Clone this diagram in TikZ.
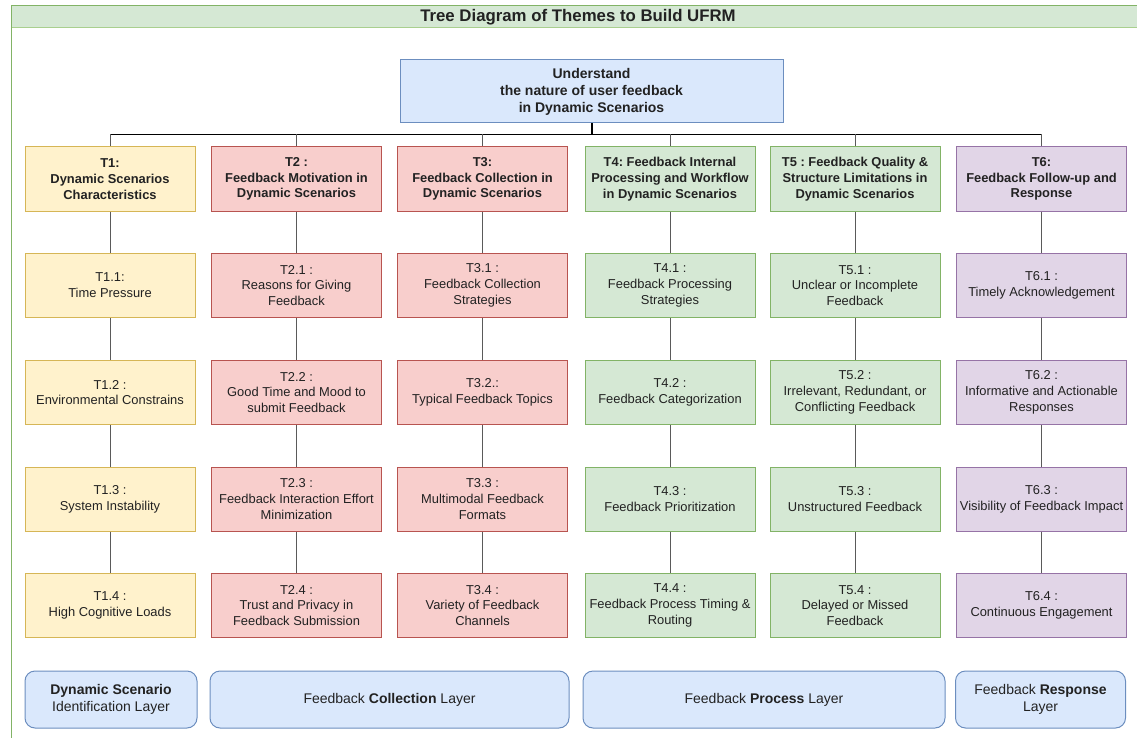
\documentclass[tikz,border=0pt]{standalone}
\usepackage{fontspec}
\setmainfont{Liberation Sans}
\frenchspacing
\definecolor{frameD}{HTML}{82B366}
\definecolor{frameL}{HTML}{A9CF8E}
\definecolor{yelF}{HTML}{FFF2CC}
\definecolor{yelD}{HTML}{D6B656}
\definecolor{redF}{HTML}{F8CECC}
\definecolor{redD}{HTML}{B85450}
\definecolor{grnF}{HTML}{D5E8D4}
\definecolor{grnD}{HTML}{82B366}
\definecolor{purF}{HTML}{E1D5E7}
\definecolor{purD}{HTML}{9673A6}
\definecolor{bluF}{HTML}{DAE8FC}
\definecolor{bluD}{HTML}{6C8EBF}
\definecolor{txt}{HTML}{222222}
\definecolor{wire}{HTML}{5A5A5A}
\begin{document}
\begin{tikzpicture}[x=1pt,y=-1pt,
  theme/.style={draw, line width=1pt, minimum width=170pt, minimum height=64pt,
    align=center, inner sep=1pt, text=txt, font=\fontsize{12.9}{15.8}\selectfont},
  head/.style={theme, font=\bfseries\fontsize{12.9}{15.8}\selectfont},
  yel/.style={fill=yelF, draw=yelD},
  red/.style={fill=redF, draw=redD},
  grn/.style={fill=grnF, draw=grnD},
  pur/.style={fill=purF, draw=purD},
  layer/.style={draw=bluD, fill=bluF, line width=1pt, rounded corners=10pt,
    minimum height=57pt, align=center, text=txt, font=\fontsize{14}{17.5}\selectfont},
  wirec/.style={draw=wire, line width=1pt},
]
\useasboundingbox (0,0) rectangle (1137,738);

% outer container with its title bar
\fill[grnF] (11,6) rectangle (1150,28);
\draw[frameL, line width=1pt] (11,28) -- (1150,28);
\draw[frameD, line width=1pt] (1150,6) -- (11,6) -- (11,745);
\node[font=\bfseries\fontsize{16.8}{19}\selectfont, text=txt] (title) at (578,17.5)
  {Tree Diagram of Themes to Build UFRM};

% root
\node[draw=bluD, fill=bluF, line width=1pt, minimum width=383pt, minimum height=63pt,
  align=center, text=txt, font=\bfseries\fontsize{14}{17}\selectfont]
  (root) at (591.5,91.5) {Understand\\the nature of user feedback\\in Dynamic Scenarios};

% main themes
\def\ya{179}
\node[head,yel] (t1) at (110,\ya)   {T1:\\Dynamic Scenarios\\Characteristics};
\node[head,red] (t2) at (296.5,\ya) {T2 :\\Feedback Motivation in\\Dynamic Scenarios};
\node[head,red] (t3) at (482.5,\ya) {T3:\\Feedback Collection in\\Dynamic Scenarios};
\node[head,grn] (t4) at (670,\ya)   {T4: Feedback Internal\\Processing and Workflow\\in Dynamic Scenarios};
\node[head,grn] (t5) at (855,\ya)   {T5 : Feedback Quality \&\\Structure Limitations in\\Dynamic Scenarios};
\node[head,pur] (t6) at (1041.5,\ya){T6:\\Feedback Follow-up and\\Response};

% sub-themes, row by row
\def\yb{285.5}\def\yc{392.5}\def\yd{499}\def\ye{605.5}
\node[theme,yel] (t11) at (110,\yb) {T1.1:\\Time Pressure};
\node[theme,yel] (t12) at (110,\yc) {T1.2 :\\Environmental Constrains};
\node[theme,yel] (t13) at (110,\yd) {T1.3 :\\System Instability};
\node[theme,yel] (t14) at (110,\ye) {T1.4 :\\High Cognitive Loads};

\node[theme,red] (t21) at (296.5,\yb) {T2.1 :\\Reasons for Giving\\Feedback};
\node[theme,red] (t22) at (296.5,\yc) {T2.2 :\\Good Time and Mood to\\submit Feedback};
\node[theme,red] (t23) at (296.5,\yd) {T2.3 :\\Feedback Interaction Effort\\Minimization};
\node[theme,red] (t24) at (296.5,\ye) {T2.4 :\\Trust and Privacy in\\Feedback Submission};

\node[theme,red] (t31) at (482.5,\yb) {T3.1 :\\Feedback Collection\\Strategies};
\node[theme,red] (t32) at (482.5,\yc) {T3.2.:\\Typical Feedback Topics};
\node[theme,red] (t33) at (482.5,\yd) {T3.3 :\\Multimodal Feedback\\Formats};
\node[theme,red] (t34) at (482.5,\ye) {T3.4 :\\Variety of Feedback\\Channels};

\node[theme,grn] (t41) at (670,\yb) {T4.1 :\\Feedback Processing\\Strategies};
\node[theme,grn] (t42) at (670,\yc) {T4.2 :\\Feedback Categorization};
\node[theme,grn] (t43) at (670,\yd) {T4.3 :\\Feedback Prioritization};
\node[theme,grn] (t44) at (670,\ye) {T4.4 :\\Feedback Process Timing \&\\Routing};

\node[theme,grn] (t51) at (855,\yb) {T5.1 :\\Unclear or Incomplete\\Feedback};
\node[theme,grn] (t52) at (855,\yc) {T5.2 :\\Irrelevant, Redundant, or\\Conflicting Feedback};
\node[theme,grn] (t53) at (855,\yd) {T5.3 :\\Unstructured Feedback};
\node[theme,grn] (t54) at (855,\ye) {T5.4 :\\Delayed or Missed\\Feedback};

\node[theme,pur] (t61) at (1041.5,\yb) {T6.1 :\\Timely Acknowledgement};
\node[theme,pur] (t62) at (1041.5,\yc) {T6.2 :\\Informative and Actionable\\Responses};
\node[theme,pur] (t63) at (1041.5,\yd) {T6.3 :\\Visibility of Feedback Impact};
\node[theme,pur] (t64) at (1041.5,\ye) {T6.4 :\\Continuous Engagement};

% tree connectors: root -> bus -> main themes
\foreach \i in {1,...,6}{
  \path (t\i.north) ++(0,-12) coordinate (b\i);
}
\coordinate (bm) at (root.south |- b1);
\draw[black, line width=2pt] (root.south) -- (bm);
\draw[black, line width=1pt] (b1) -- (b6);
\foreach \i in {1,...,6}{
  \draw[wirec] (b\i) -- (t\i.north);
}
% main theme -> sub-theme chains
\foreach \i in {1,...,6}{
  \draw[wirec] (t\i.south) -- (t\i1.north);
  \draw[wirec] (t\i1.south) -- (t\i2.north);
  \draw[wirec] (t\i2.south) -- (t\i3.north);
  \draw[wirec] (t\i3.south) -- (t\i4.north);
}

% layer bands
\node[layer, minimum width=172pt] (l1) at (111,699.5)
  {\textbf{Dynamic Scenario}\\Identification Layer};
\node[layer, minimum width=359pt] (l2) at (389.5,699.5)
  {Feedback \textbf{Collection} Layer};
\node[layer, minimum width=362pt] (l3) at (764,699.5)
  {Feedback \textbf{Process} Layer};
\node[layer, minimum width=170pt] (l4) at (1040.5,699.5)
  {Feedback \textbf{Response}\\Layer};
\end{tikzpicture}
\end{document}
